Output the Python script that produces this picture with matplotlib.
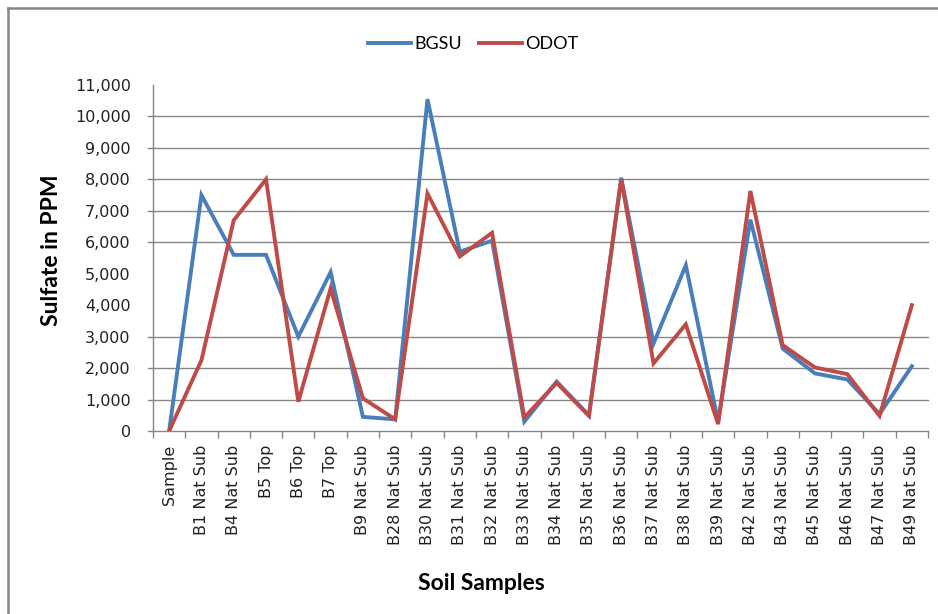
import matplotlib
matplotlib.use("Agg")
import matplotlib.pyplot as plt
from matplotlib.lines import Line2D
import numpy as np

categories = ["Sample", "B1 Nat Sub", "B4 Nat Sub", "B5 Top", "B6 Top", "B7 Top",
              "B9 Nat Sub", "B28 Nat Sub", "B30 Nat Sub", "B31 Nat Sub", "B32 Nat Sub",
              "B33 Nat Sub", "B34 Nat Sub", "B35 Nat Sub", "B36 Nat Sub", "B37 Nat Sub",
              "B38 Nat Sub", "B39 Nat Sub", "B42 Nat Sub", "B43 Nat Sub", "B45 Nat Sub",
              "B46 Nat Sub", "B47 Nat Sub", "B49 Nat Sub"]
bgsu = [0, 7500, 5600, 5600, 3000, 5050, 450, 370, 10550, 5700, 6050,
        300, 1570, 500, 8050, 2780, 5270, 300, 6720, 2620, 1830, 1640, 540, 2060]
odot = [0, 2250, 6700, 8000, 930, 4530, 1040, 370, 7550, 5550, 6300,
        430, 1530, 480, 8000, 2150, 3390, 220, 7630, 2730, 2020, 1810, 480, 4000]
yticks = list(range(0, 11001, 1000))
grid_values = [1000, 2000, 3000, 6000, 7000, 8000, 9000, 10000]

W, H = 938, 614
fig = plt.figure(figsize=(W / 100, H / 100), dpi=100)
plt.rcParams['font.family'] = ['DejaVu Sans']

ax = fig.add_axes([153 / W, (H - 431) / H, 775 / W, 346 / H])
x = np.arange(len(categories))
ax.plot(x, bgsu, color="#4a7ebb", lw=2.8, label="BGSU", solid_joinstyle="miter", zorder=3)
ax.plot(x, odot, color="#be4b48", lw=2.8, label="ODOT", solid_joinstyle="miter", zorder=4)

ax.set_xlim(-0.5, len(categories) - 0.5)
ax.set_ylim(0, 11000)

gray = "#868686"
for v in grid_values:
    ax.axhline(v, xmin=-0.007, xmax=1, color=gray, lw=1.0, clip_on=False, zorder=1)
ax.axhline(0, xmin=-0.007, xmax=0, color=gray, lw=1.0, clip_on=False)

ax.set_yticks(yticks)
ax.set_yticklabels([f"{v:,}" for v in yticks], fontsize=11.5, color="#222222")
ax.tick_params(axis='y', length=0, pad=16)

ax.set_xticks(x)
ax.set_xticklabels(categories, rotation=90, fontsize=11.5, color="#222222")
ax.tick_params(axis='x', length=0, pad=10)
ax.set_xticks(np.arange(-0.5, len(categories) + 0.5, 1), minor=True)
ax.tick_params(axis='x', which='minor', length=5, color=gray, width=1)

for s in ["top", "right"]:
    ax.spines[s].set_visible(False)
for s in ["left", "bottom"]:
    ax.spines[s].set_color(gray)
    ax.spines[s].set_linewidth(1.0)

fig.text(52 / W, 1 - 250 / H, "Sulfate in PPM", rotation=90, fontsize=16.5,
         fontweight="bold", ha="center", va="center", family=["Lato", "DejaVu Sans"])
fig.text(481 / W, 1 - 584 / H, "Soil Samples", fontsize=16.5,
         fontweight="bold", ha="center", va="center", family=["Lato", "DejaVu Sans"])

leg = fig.legend(loc="center", bbox_to_anchor=(473 / W, 1 - 44 / H), ncol=2, frameon=False,
                 fontsize=12, handlelength=2.6, handletextpad=0.2, columnspacing=1.0)
for t in leg.get_texts():
    t.set_family(["Lato", "DejaVu Sans"])
    t.set_fontsize(13)

# outer border (top and left visible)
fig.add_artist(Line2D([8 / W, 1], [1 - 8 / H, 1 - 8 / H], color=gray, lw=1.8,
                      transform=fig.transFigure))
fig.add_artist(Line2D([8 / W, 8 / W], [0, 1 - 8 / H], color=gray, lw=1.8,
                      transform=fig.transFigure))

fig.savefig("out.png", dpi=100, facecolor="white")
